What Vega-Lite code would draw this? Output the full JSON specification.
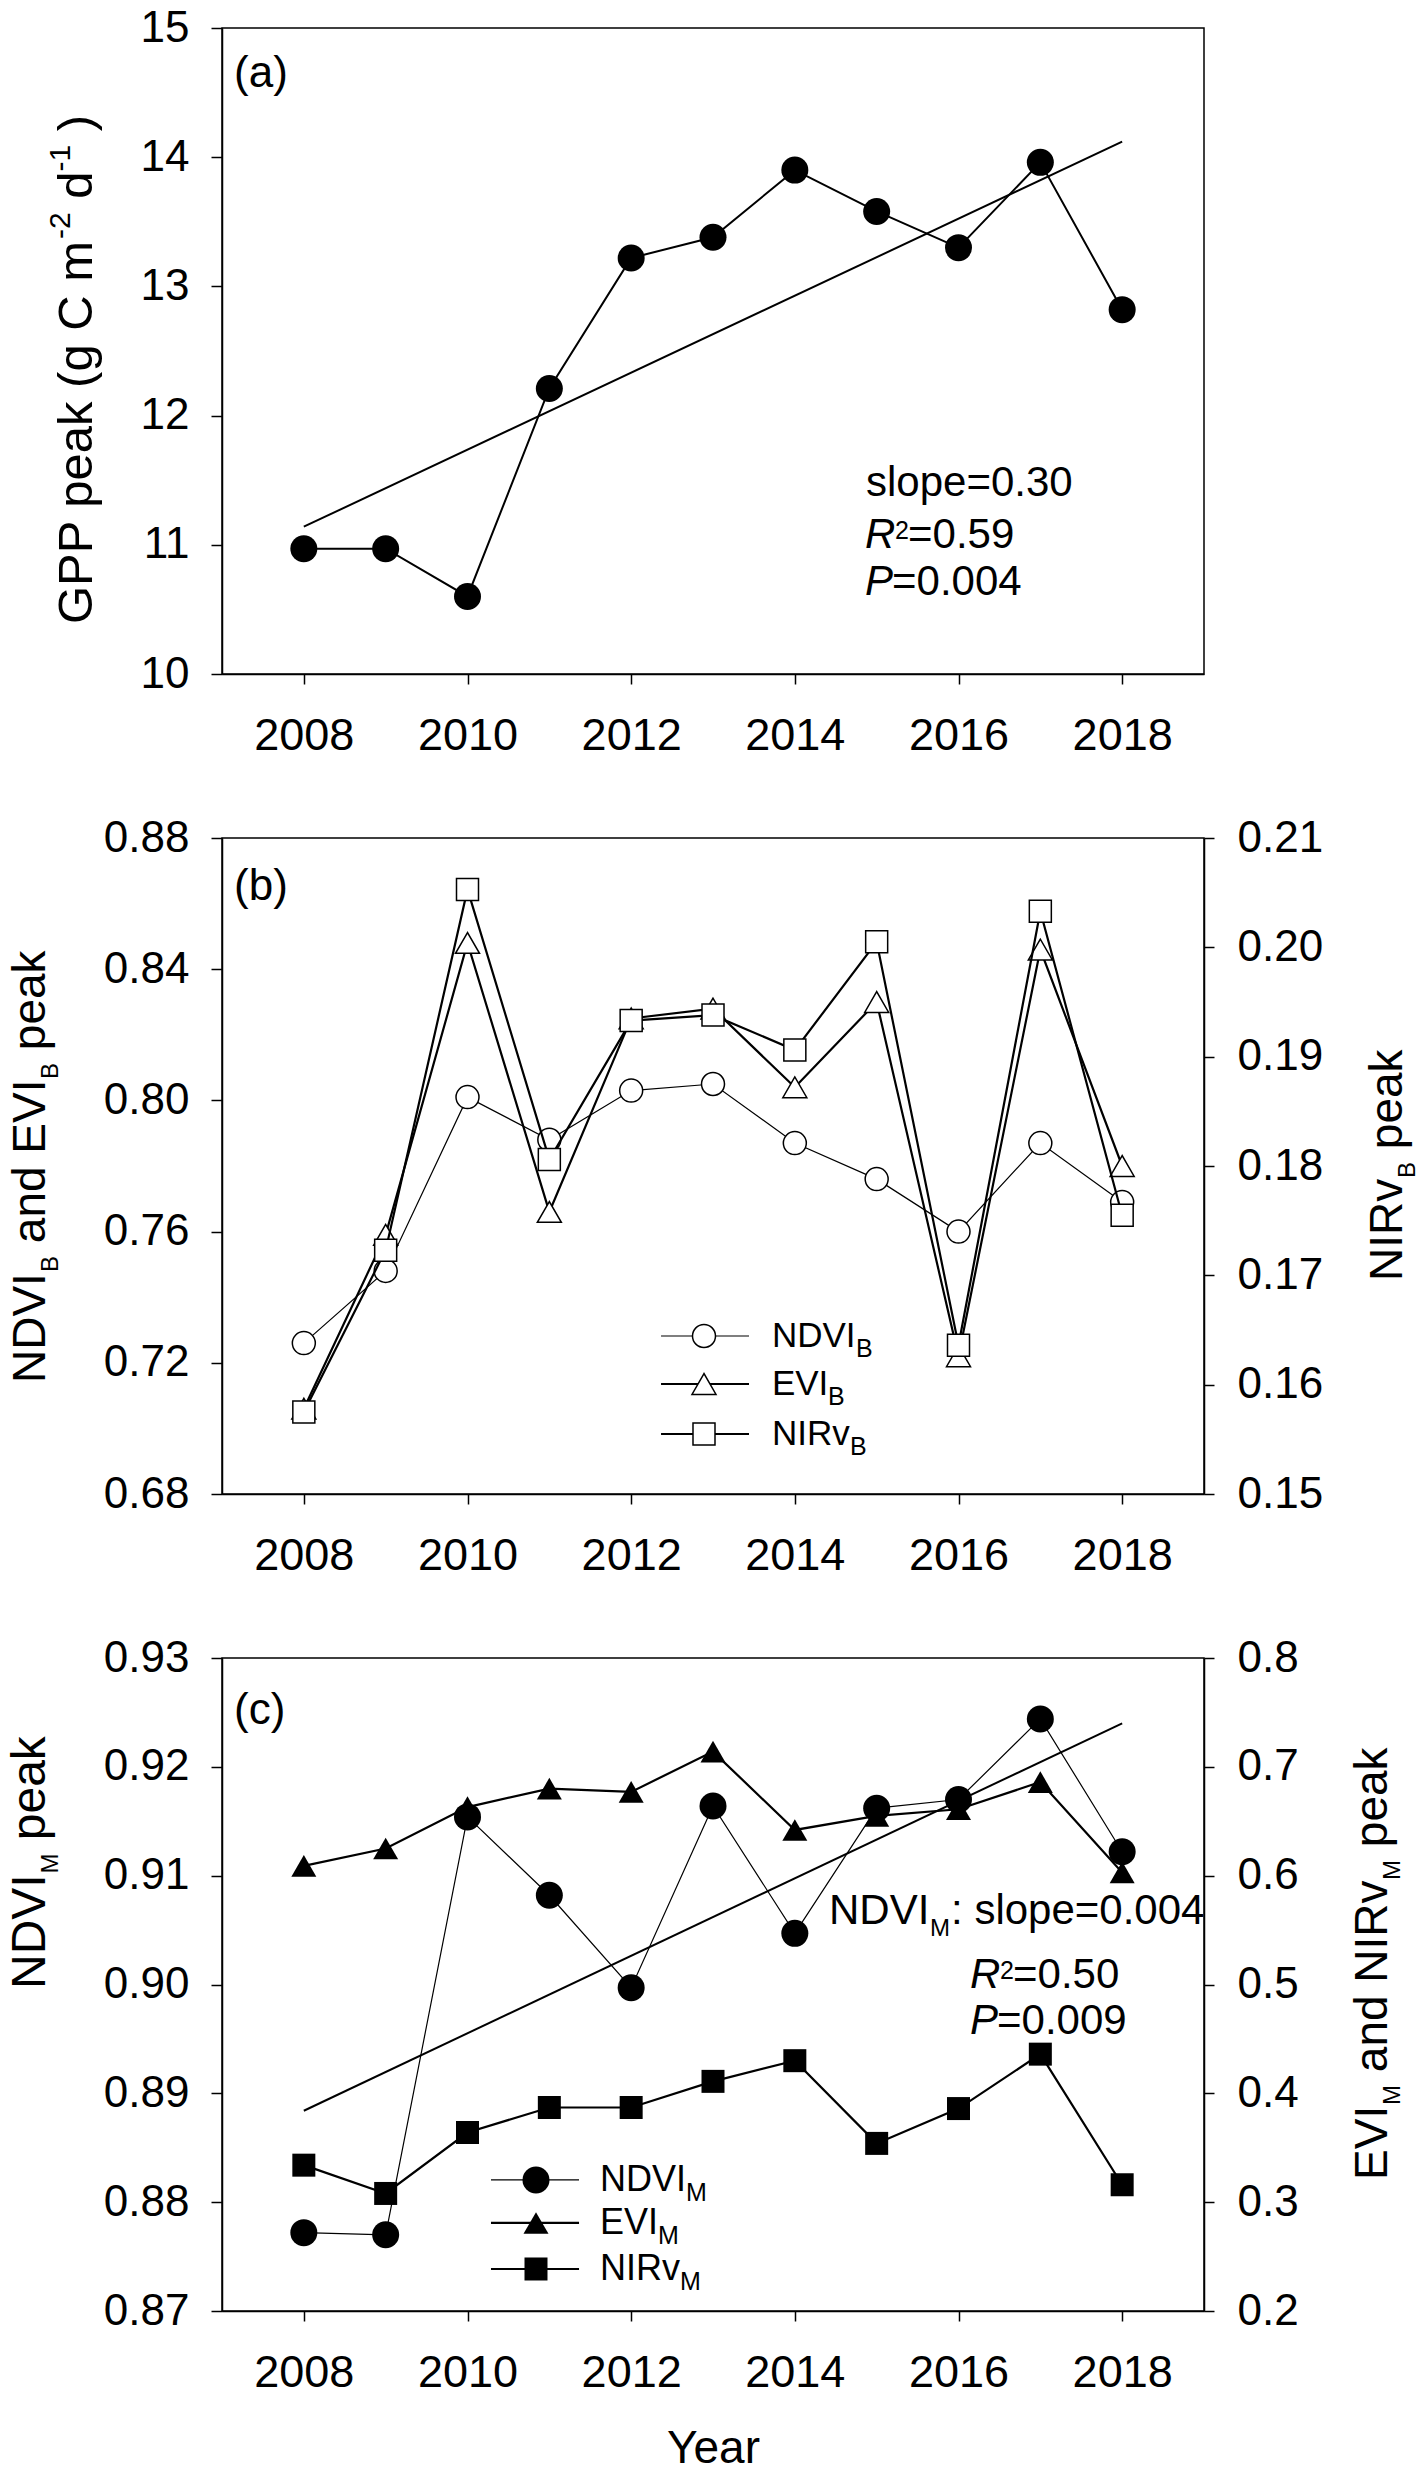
{
"$schema": "https://vega.github.io/schema/vega-lite/v6.json",
"padding": {"left": 6, "top": 5, "right": 0, "bottom": 0},
"bounds": "flush",
"spacing": 164,
"datasets": {
"idx": [
{"year": 2008, "gpp": 10.97, "ndvi_b": 0.726, "evi_b": 0.706, "nirv_b": 0.1575, "ndvi_m": 0.8772, "evi_m": 0.609, "nirv_m": 0.334},
{"year": 2009, "gpp": 10.97, "ndvi_b": 0.748, "evi_b": 0.759, "nirv_b": 0.1723, "ndvi_m": 0.8770, "evi_m": 0.625, "nirv_m": 0.308},
{"year": 2010, "gpp": 10.60, "ndvi_b": 0.801, "evi_b": 0.848, "nirv_b": 0.2053, "ndvi_m": 0.9154, "evi_m": 0.663, "nirv_m": 0.364},
{"year": 2011, "gpp": 12.21, "ndvi_b": 0.788, "evi_b": 0.766, "nirv_b": 0.1806, "ndvi_m": 0.9082, "evi_m": 0.680, "nirv_m": 0.387},
{"year": 2012, "gpp": 13.22, "ndvi_b": 0.803, "evi_b": 0.825, "nirv_b": 0.1933, "ndvi_m": 0.8997, "evi_m": 0.677, "nirv_m": 0.387},
{"year": 2013, "gpp": 13.38, "ndvi_b": 0.805, "evi_b": 0.828, "nirv_b": 0.1938, "ndvi_m": 0.9164, "evi_m": 0.714, "nirv_m": 0.411},
{"year": 2014, "gpp": 13.90, "ndvi_b": 0.787, "evi_b": 0.804, "nirv_b": 0.1906, "ndvi_m": 0.9047, "evi_m": 0.642, "nirv_m": 0.430},
{"year": 2015, "gpp": 13.58, "ndvi_b": 0.776, "evi_b": 0.830, "nirv_b": 0.2005, "ndvi_m": 0.9162, "evi_m": 0.655, "nirv_m": 0.354},
{"year": 2016, "gpp": 13.30, "ndvi_b": 0.760, "evi_b": 0.722, "nirv_b": 0.1636, "ndvi_m": 0.9170, "evi_m": 0.661, "nirv_m": 0.386},
{"year": 2017, "gpp": 13.96, "ndvi_b": 0.787, "evi_b": 0.846, "nirv_b": 0.2033, "ndvi_m": 0.9244, "evi_m": 0.686, "nirv_m": 0.436},
{"year": 2018, "gpp": 12.82, "ndvi_b": 0.769, "evi_b": 0.780, "nirv_b": 0.1755, "ndvi_m": 0.9122, "evi_m": 0.603, "nirv_m": 0.316}
],
"trendA": [{"year": 2008, "v": 11.14}, {"year": 2018, "v": 14.12}],
"trendC": [{"year": 2008, "v": 0.8884}, {"year": 2018, "v": 0.9240}],
"one": [{}]
},
"vconcat": [
{
"width": 982, "height": 646,
"layer": [
{"data": {"name": "idx"}, "mark": {"type": "line", "color": "black", "strokeWidth": 2},
 "encoding": {
  "x": {"field": "year", "type": "quantitative", "scale": {"domain": [2007, 2019], "nice": false, "zero": false}, "axis": {"values": [2008, 2010, 2012, 2014, 2016, 2018], "format": "d", "title": null}},
  "y": {"field": "gpp", "type": "quantitative", "scale": {"domain": [10, 15], "nice": false, "zero": false}, "axis": {"values": [10, 11, 12, 13, 14, 15], "format": "d", "title": null}}}},
{"data": {"name": "trendA"}, "mark": {"type": "line", "color": "black", "strokeWidth": 2},
 "encoding": {"x": {"field": "year", "type": "quantitative"}, "y": {"field": "v", "type": "quantitative"}}},
{"data": {"name": "idx"}, "mark": {"type": "point", "shape": "circle", "filled": true, "color": "black", "size": 729, "opacity": 1},
 "encoding": {"x": {"field": "year", "type": "quantitative"}, "y": {"field": "gpp", "type": "quantitative"}}},
{"data": {"name": "one"}, "mark": {"type": "text", "align": "left", "baseline": "alphabetic", "fontSize": 44},
 "encoding": {"x": {"datum": 2007.147, "type": "quantitative"}, "y": {"datum": 14.543, "type": "quantitative"}, "text": {"value": "(a)"}}},
{"data": {"name": "one"}, "mark": {"type": "text", "align": "left", "baseline": "alphabetic", "fontSize": 42},
 "encoding": {"x": {"datum": 2014.870, "type": "quantitative"}, "y": {"datum": 11.378, "type": "quantitative"}, "text": {"value": "slope=0.30"}}},
{"data": {"name": "one"}, "mark": {"type": "text", "align": "left", "baseline": "alphabetic", "fontSize": 42, "fontStyle": "italic"},
 "encoding": {"x": {"datum": 2014.858, "type": "quantitative"}, "y": {"datum": 10.975, "type": "quantitative"}, "text": {"value": "R"}}},
{"data": {"name": "one"}, "mark": {"type": "text", "align": "left", "baseline": "alphabetic", "fontSize": 25, "dx": 30, "dy": -9},
 "encoding": {"x": {"datum": 2014.858, "type": "quantitative"}, "y": {"datum": 10.975, "type": "quantitative"}, "text": {"value": "2"}}},
{"data": {"name": "one"}, "mark": {"type": "text", "align": "left", "baseline": "alphabetic", "fontSize": 42, "dx": 43},
 "encoding": {"x": {"datum": 2014.858, "type": "quantitative"}, "y": {"datum": 10.975, "type": "quantitative"}, "text": {"value": "=0.59"}}},
{"data": {"name": "one"}, "mark": {"type": "text", "align": "left", "baseline": "alphabetic", "fontSize": 42, "fontStyle": "italic"},
 "encoding": {"x": {"datum": 2014.858, "type": "quantitative"}, "y": {"datum": 10.611, "type": "quantitative"}, "text": {"value": "P"}}},
{"data": {"name": "one"}, "mark": {"type": "text", "align": "left", "baseline": "alphabetic", "fontSize": 42, "dx": 27},
 "encoding": {"x": {"datum": 2014.858, "type": "quantitative"}, "y": {"datum": 10.611, "type": "quantitative"}, "text": {"value": "=0.004"}}},
{"data": {"name": "one"}, "mark": {"type": "text", "align": "left", "baseline": "alphabetic", "angle": 270, "fontSize": 49},
 "encoding": {"x": {"datum": 2005.411, "type": "quantitative"}, "y": {"datum": 10.387, "type": "quantitative"}, "text": {"value": "GPP peak (g C m"}}},
{"data": {"name": "one"}, "mark": {"type": "text", "align": "left", "baseline": "alphabetic", "angle": 270, "fontSize": 30, "dx": 385, "dy": -22},
 "encoding": {"x": {"datum": 2005.411, "type": "quantitative"}, "y": {"datum": 10.387, "type": "quantitative"}, "text": {"value": "-2"}}},
{"data": {"name": "one"}, "mark": {"type": "text", "align": "left", "baseline": "alphabetic", "angle": 270, "fontSize": 49, "dx": 425.3},
 "encoding": {"x": {"datum": 2005.411, "type": "quantitative"}, "y": {"datum": 10.387, "type": "quantitative"}, "text": {"value": "d"}}},
{"data": {"name": "one"}, "mark": {"type": "text", "align": "left", "baseline": "alphabetic", "angle": 270, "fontSize": 30, "dx": 452.5, "dy": -22},
 "encoding": {"x": {"datum": 2005.411, "type": "quantitative"}, "y": {"datum": 10.387, "type": "quantitative"}, "text": {"value": "-1"}}},
{"data": {"name": "one"}, "mark": {"type": "text", "align": "left", "baseline": "alphabetic", "angle": 270, "fontSize": 49, "dx": 492.8},
 "encoding": {"x": {"datum": 2005.411, "type": "quantitative"}, "y": {"datum": 10.387, "type": "quantitative"}, "text": {"value": ")"}}}
]
},
{
"width": 982, "height": 656,
"resolve": {"scale": {"y": "independent"}},
"layer": [
{"layer": [
{"data": {"name": "idx"}, "mark": {"type": "line", "color": "black", "strokeWidth": 1.2},
 "encoding": {
  "x": {"field": "year", "type": "quantitative", "scale": {"domain": [2007, 2019], "nice": false, "zero": false}, "axis": {"values": [2008, 2010, 2012, 2014, 2016, 2018], "format": "d", "title": null}},
  "y": {"field": "ndvi_b", "type": "quantitative", "scale": {"domain": [0.68, 0.88], "nice": false, "zero": false}, "axis": {"orient": "left", "values": [0.68, 0.72, 0.76, 0.8, 0.84, 0.88], "format": ".2f", "title": null}}}},
{"data": {"name": "idx"}, "mark": {"type": "line", "color": "black", "strokeWidth": 2.2},
 "encoding": {"x": {"field": "year", "type": "quantitative"}, "y": {"field": "evi_b", "type": "quantitative"}}},
{"data": {"name": "idx"}, "mark": {"type": "point", "shape": "circle", "filled": true, "fill": "white", "stroke": "black", "strokeWidth": 1.5, "size": 529, "opacity": 1},
 "encoding": {"x": {"field": "year", "type": "quantitative"}, "y": {"field": "ndvi_b", "type": "quantitative"}}},
{"data": {"name": "idx"}, "mark": {"type": "point", "shape": "triangle-up", "filled": true, "fill": "white", "stroke": "black", "strokeWidth": 1.5, "size": 576, "opacity": 1},
 "encoding": {"x": {"field": "year", "type": "quantitative"}, "y": {"field": "evi_b", "type": "quantitative"}}},
{"data": {"name": "one"}, "mark": {"type": "text", "align": "left", "baseline": "alphabetic", "fontSize": 44},
 "encoding": {"x": {"datum": 2007.147, "type": "quantitative"}, "y": {"datum": 0.8611, "type": "quantitative"}, "text": {"value": "(b)"}}},
{"data": {"name": "one"}, "mark": {"type": "rule", "color": "black", "strokeWidth": 1.2},
 "encoding": {"x": {"datum": 2012.365, "type": "quantitative"}, "x2": {"datum": 2013.44}, "y": {"datum": 0.72817, "type": "quantitative"}}},
{"data": {"name": "one"}, "mark": {"type": "point", "shape": "circle", "filled": true, "fill": "white", "stroke": "black", "strokeWidth": 1.5, "size": 529, "opacity": 1},
 "encoding": {"x": {"datum": 2012.89, "type": "quantitative"}, "y": {"datum": 0.72817, "type": "quantitative"}}},
{"data": {"name": "one"}, "mark": {"type": "text", "align": "left", "baseline": "middle", "fontSize": 35},
 "encoding": {"x": {"datum": 2013.72, "type": "quantitative"}, "y": {"datum": 0.72817, "type": "quantitative"}, "text": {"value": "NDVI"}}},
{"data": {"name": "one"}, "mark": {"type": "text", "align": "left", "baseline": "middle", "fontSize": 25, "dx": 84, "dy": 13},
 "encoding": {"x": {"datum": 2013.72, "type": "quantitative"}, "y": {"datum": 0.72817, "type": "quantitative"}, "text": {"value": "B"}}},
{"data": {"name": "one"}, "mark": {"type": "rule", "color": "black", "strokeWidth": 2.2},
 "encoding": {"x": {"datum": 2012.365, "type": "quantitative"}, "x2": {"datum": 2013.44}, "y": {"datum": 0.71354, "type": "quantitative"}}},
{"data": {"name": "one"}, "mark": {"type": "point", "shape": "triangle-up", "filled": true, "fill": "white", "stroke": "black", "strokeWidth": 1.5, "size": 576, "opacity": 1},
 "encoding": {"x": {"datum": 2012.89, "type": "quantitative"}, "y": {"datum": 0.71354, "type": "quantitative"}}},
{"data": {"name": "one"}, "mark": {"type": "text", "align": "left", "baseline": "middle", "fontSize": 35},
 "encoding": {"x": {"datum": 2013.72, "type": "quantitative"}, "y": {"datum": 0.71354, "type": "quantitative"}, "text": {"value": "EVI"}}},
{"data": {"name": "one"}, "mark": {"type": "text", "align": "left", "baseline": "middle", "fontSize": 25, "dx": 56, "dy": 13},
 "encoding": {"x": {"datum": 2013.72, "type": "quantitative"}, "y": {"datum": 0.71354, "type": "quantitative"}, "text": {"value": "B"}}},
{"data": {"name": "one"}, "mark": {"type": "rule", "color": "black", "strokeWidth": 2.2},
 "encoding": {"x": {"datum": 2012.365, "type": "quantitative"}, "x2": {"datum": 2013.44}, "y": {"datum": 0.69829, "type": "quantitative"}}},
{"data": {"name": "one"}, "mark": {"type": "point", "shape": "square", "filled": true, "fill": "white", "stroke": "black", "strokeWidth": 1.5, "size": 484, "opacity": 1},
 "encoding": {"x": {"datum": 2012.89, "type": "quantitative"}, "y": {"datum": 0.69829, "type": "quantitative"}}},
{"data": {"name": "one"}, "mark": {"type": "text", "align": "left", "baseline": "middle", "fontSize": 35},
 "encoding": {"x": {"datum": 2013.72, "type": "quantitative"}, "y": {"datum": 0.69829, "type": "quantitative"}, "text": {"value": "NIRv"}}},
{"data": {"name": "one"}, "mark": {"type": "text", "align": "left", "baseline": "middle", "fontSize": 25, "dx": 78, "dy": 13},
 "encoding": {"x": {"datum": 2013.72, "type": "quantitative"}, "y": {"datum": 0.69829, "type": "quantitative"}, "text": {"value": "B"}}},
{"data": {"name": "one"}, "mark": {"type": "text", "align": "left", "baseline": "alphabetic", "angle": 270, "fontSize": 46},
 "encoding": {"x": {"datum": 2004.837, "type": "quantitative"}, "y": {"datum": 0.71384, "type": "quantitative"}, "text": {"value": "NDVI"}}},
{"data": {"name": "one"}, "mark": {"type": "text", "align": "left", "baseline": "alphabetic", "angle": 270, "fontSize": 24, "dx": 111, "dy": 13},
 "encoding": {"x": {"datum": 2004.837, "type": "quantitative"}, "y": {"datum": 0.71384, "type": "quantitative"}, "text": {"value": "B"}}},
{"data": {"name": "one"}, "mark": {"type": "text", "align": "left", "baseline": "alphabetic", "angle": 270, "fontSize": 46, "dx": 139.8},
 "encoding": {"x": {"datum": 2004.837, "type": "quantitative"}, "y": {"datum": 0.71384, "type": "quantitative"}, "text": {"value": "and EVI"}}},
{"data": {"name": "one"}, "mark": {"type": "text", "align": "left", "baseline": "alphabetic", "angle": 270, "fontSize": 24, "dx": 304, "dy": 13},
 "encoding": {"x": {"datum": 2004.837, "type": "quantitative"}, "y": {"datum": 0.71384, "type": "quantitative"}, "text": {"value": "B"}}},
{"data": {"name": "one"}, "mark": {"type": "text", "align": "left", "baseline": "alphabetic", "angle": 270, "fontSize": 46, "dx": 332.8},
 "encoding": {"x": {"datum": 2004.837, "type": "quantitative"}, "y": {"datum": 0.71384, "type": "quantitative"}, "text": {"value": "peak"}}},
{"data": {"name": "one"}, "mark": {"type": "text", "align": "left", "baseline": "alphabetic", "angle": 270, "fontSize": 46},
 "encoding": {"x": {"datum": 2021.42, "type": "quantitative"}, "y": {"datum": 0.74494, "type": "quantitative"}, "text": {"value": "NIRv"}}},
{"data": {"name": "one"}, "mark": {"type": "text", "align": "left", "baseline": "alphabetic", "angle": 270, "fontSize": 24, "dx": 103, "dy": 13},
 "encoding": {"x": {"datum": 2021.42, "type": "quantitative"}, "y": {"datum": 0.74494, "type": "quantitative"}, "text": {"value": "B"}}},
{"data": {"name": "one"}, "mark": {"type": "text", "align": "left", "baseline": "alphabetic", "angle": 270, "fontSize": 46, "dx": 131.8},
 "encoding": {"x": {"datum": 2021.42, "type": "quantitative"}, "y": {"datum": 0.74494, "type": "quantitative"}, "text": {"value": "peak"}}}
]},
{"layer": [
{"data": {"name": "idx"}, "mark": {"type": "line", "color": "black", "strokeWidth": 2.2},
 "encoding": {"x": {"field": "year", "type": "quantitative"},
  "y": {"field": "nirv_b", "type": "quantitative", "scale": {"domain": [0.15, 0.21], "nice": false, "zero": false}, "axis": {"orient": "right", "values": [0.15, 0.16, 0.17, 0.18, 0.19, 0.2, 0.21], "format": ".2f", "title": null, "tickSize": 10, "labelPadding": 23}}}},
{"data": {"name": "idx"}, "mark": {"type": "point", "shape": "square", "filled": true, "fill": "white", "stroke": "black", "strokeWidth": 1.5, "size": 484, "opacity": 1},
 "encoding": {"x": {"field": "year", "type": "quantitative"}, "y": {"field": "nirv_b", "type": "quantitative"}}}
]}
]
},
{
"width": 982, "height": 653,
"resolve": {"scale": {"y": "independent"}},
"layer": [
{"layer": [
{"data": {"name": "idx"}, "mark": {"type": "line", "color": "black", "strokeWidth": 1.2},
 "encoding": {
  "x": {"field": "year", "type": "quantitative", "scale": {"domain": [2007, 2019], "nice": false, "zero": false}, "axis": {"values": [2008, 2010, 2012, 2014, 2016, 2018], "format": "d", "title": "Year", "titleY": 151, "titleBaseline": "alphabetic", "titleFontSize": 46}},
  "y": {"field": "ndvi_m", "type": "quantitative", "scale": {"domain": [0.87, 0.93], "nice": false, "zero": false}, "axis": {"orient": "left", "values": [0.87, 0.88, 0.89, 0.9, 0.91, 0.92, 0.93], "format": ".2f", "title": null}}}},
{"data": {"name": "trendC"}, "mark": {"type": "line", "color": "black", "strokeWidth": 2},
 "encoding": {"x": {"field": "year", "type": "quantitative"}, "y": {"field": "v", "type": "quantitative"}}},
{"data": {"name": "idx"}, "mark": {"type": "point", "shape": "circle", "filled": true, "color": "black", "size": 729, "opacity": 1},
 "encoding": {"x": {"field": "year", "type": "quantitative"}, "y": {"field": "ndvi_m", "type": "quantitative"}}},
{"data": {"name": "one"}, "mark": {"type": "text", "align": "left", "baseline": "alphabetic", "fontSize": 44},
 "encoding": {"x": {"datum": 2007.147, "type": "quantitative"}, "y": {"datum": 0.92394, "type": "quantitative"}, "text": {"value": "(c)"}}},
{"data": {"name": "one"}, "mark": {"type": "text", "align": "left", "baseline": "alphabetic", "fontSize": 42},
 "encoding": {"x": {"datum": 2014.418, "type": "quantitative"}, "y": {"datum": 0.90556, "type": "quantitative"}, "text": {"value": "NDVI"}}},
{"data": {"name": "one"}, "mark": {"type": "text", "align": "left", "baseline": "alphabetic", "fontSize": 24, "dx": 101, "dy": 12},
 "encoding": {"x": {"datum": 2014.418, "type": "quantitative"}, "y": {"datum": 0.90556, "type": "quantitative"}, "text": {"value": "M"}}},
{"data": {"name": "one"}, "mark": {"type": "text", "align": "left", "baseline": "alphabetic", "fontSize": 42, "dx": 122},
 "encoding": {"x": {"datum": 2014.418, "type": "quantitative"}, "y": {"datum": 0.90556, "type": "quantitative"}, "text": {"value": ": slope=0.004"}}},
{"data": {"name": "one"}, "mark": {"type": "text", "align": "left", "baseline": "alphabetic", "fontSize": 42, "fontStyle": "italic"},
 "encoding": {"x": {"datum": 2016.141, "type": "quantitative"}, "y": {"datum": 0.89968, "type": "quantitative"}, "text": {"value": "R"}}},
{"data": {"name": "one"}, "mark": {"type": "text", "align": "left", "baseline": "alphabetic", "fontSize": 25, "dx": 30, "dy": -9},
 "encoding": {"x": {"datum": 2016.141, "type": "quantitative"}, "y": {"datum": 0.89968, "type": "quantitative"}, "text": {"value": "2"}}},
{"data": {"name": "one"}, "mark": {"type": "text", "align": "left", "baseline": "alphabetic", "fontSize": 42, "dx": 43},
 "encoding": {"x": {"datum": 2016.141, "type": "quantitative"}, "y": {"datum": 0.89968, "type": "quantitative"}, "text": {"value": "=0.50"}}},
{"data": {"name": "one"}, "mark": {"type": "text", "align": "left", "baseline": "alphabetic", "fontSize": 42, "fontStyle": "italic"},
 "encoding": {"x": {"datum": 2016.141, "type": "quantitative"}, "y": {"datum": 0.89545, "type": "quantitative"}, "text": {"value": "P"}}},
{"data": {"name": "one"}, "mark": {"type": "text", "align": "left", "baseline": "alphabetic", "fontSize": 42, "dx": 27},
 "encoding": {"x": {"datum": 2016.141, "type": "quantitative"}, "y": {"datum": 0.89545, "type": "quantitative"}, "text": {"value": "=0.009"}}},
{"data": {"name": "one"}, "mark": {"type": "rule", "color": "black", "strokeWidth": 1.2},
 "encoding": {"x": {"datum": 2010.287, "type": "quantitative"}, "x2": {"datum": 2011.363}, "y": {"datum": 0.88204, "type": "quantitative"}}},
{"data": {"name": "one"}, "mark": {"type": "point", "shape": "circle", "filled": true, "color": "black", "size": 729, "opacity": 1},
 "encoding": {"x": {"datum": 2010.837, "type": "quantitative"}, "y": {"datum": 0.88204, "type": "quantitative"}}},
{"data": {"name": "one"}, "mark": {"type": "text", "align": "left", "baseline": "middle", "fontSize": 36},
 "encoding": {"x": {"datum": 2011.619, "type": "quantitative"}, "y": {"datum": 0.88204, "type": "quantitative"}, "text": {"value": "NDVI"}}},
{"data": {"name": "one"}, "mark": {"type": "text", "align": "left", "baseline": "middle", "fontSize": 25, "dx": 86, "dy": 13},
 "encoding": {"x": {"datum": 2011.619, "type": "quantitative"}, "y": {"datum": 0.88204, "type": "quantitative"}, "text": {"value": "M"}}},
{"data": {"name": "one"}, "mark": {"type": "rule", "color": "black", "strokeWidth": 2.2},
 "encoding": {"x": {"datum": 2010.287, "type": "quantitative"}, "x2": {"datum": 2011.363}, "y": {"datum": 0.87809, "type": "quantitative"}}},
{"data": {"name": "one"}, "mark": {"type": "point", "shape": "triangle-up", "filled": true, "color": "black", "size": 625, "opacity": 1},
 "encoding": {"x": {"datum": 2010.837, "type": "quantitative"}, "y": {"datum": 0.87809, "type": "quantitative"}}},
{"data": {"name": "one"}, "mark": {"type": "text", "align": "left", "baseline": "middle", "fontSize": 36},
 "encoding": {"x": {"datum": 2011.619, "type": "quantitative"}, "y": {"datum": 0.87809, "type": "quantitative"}, "text": {"value": "EVI"}}},
{"data": {"name": "one"}, "mark": {"type": "text", "align": "left", "baseline": "middle", "fontSize": 25, "dx": 58, "dy": 13},
 "encoding": {"x": {"datum": 2011.619, "type": "quantitative"}, "y": {"datum": 0.87809, "type": "quantitative"}, "text": {"value": "M"}}},
{"data": {"name": "one"}, "mark": {"type": "rule", "color": "black", "strokeWidth": 2.2},
 "encoding": {"x": {"datum": 2010.287, "type": "quantitative"}, "x2": {"datum": 2011.363}, "y": {"datum": 0.87386, "type": "quantitative"}}},
{"data": {"name": "one"}, "mark": {"type": "point", "shape": "square", "filled": true, "color": "black", "size": 529, "opacity": 1},
 "encoding": {"x": {"datum": 2010.837, "type": "quantitative"}, "y": {"datum": 0.87386, "type": "quantitative"}}},
{"data": {"name": "one"}, "mark": {"type": "text", "align": "left", "baseline": "middle", "fontSize": 36},
 "encoding": {"x": {"datum": 2011.619, "type": "quantitative"}, "y": {"datum": 0.87386, "type": "quantitative"}, "text": {"value": "NIRv"}}},
{"data": {"name": "one"}, "mark": {"type": "text", "align": "left", "baseline": "middle", "fontSize": 25, "dx": 80, "dy": 13},
 "encoding": {"x": {"datum": 2011.619, "type": "quantitative"}, "y": {"datum": 0.87386, "type": "quantitative"}, "text": {"value": "M"}}},
{"data": {"name": "one"}, "mark": {"type": "text", "align": "left", "baseline": "alphabetic", "angle": 270, "fontSize": 48},
 "encoding": {"x": {"datum": 2004.837, "type": "quantitative"}, "y": {"datum": 0.899585, "type": "quantitative"}, "text": {"value": "NDVI"}}},
{"data": {"name": "one"}, "mark": {"type": "text", "align": "left", "baseline": "alphabetic", "angle": 270, "fontSize": 24, "dx": 115.5, "dy": 13},
 "encoding": {"x": {"datum": 2004.837, "type": "quantitative"}, "y": {"datum": 0.899585, "type": "quantitative"}, "text": {"value": "M"}}},
{"data": {"name": "one"}, "mark": {"type": "text", "align": "left", "baseline": "alphabetic", "angle": 270, "fontSize": 48, "dx": 148.8},
 "encoding": {"x": {"datum": 2004.837, "type": "quantitative"}, "y": {"datum": 0.899585, "type": "quantitative"}, "text": {"value": "peak"}}},
{"data": {"name": "one"}, "mark": {"type": "text", "align": "left", "baseline": "alphabetic", "angle": 270, "fontSize": 46},
 "encoding": {"x": {"datum": 2021.237, "type": "quantitative"}, "y": {"datum": 0.88204, "type": "quantitative"}, "text": {"value": "EVI"}}},
{"data": {"name": "one"}, "mark": {"type": "text", "align": "left", "baseline": "alphabetic", "angle": 270, "fontSize": 24, "dx": 75, "dy": 13},
 "encoding": {"x": {"datum": 2021.237, "type": "quantitative"}, "y": {"datum": 0.88204, "type": "quantitative"}, "text": {"value": "M"}}},
{"data": {"name": "one"}, "mark": {"type": "text", "align": "left", "baseline": "alphabetic", "angle": 270, "fontSize": 46, "dx": 107.8},
 "encoding": {"x": {"datum": 2021.237, "type": "quantitative"}, "y": {"datum": 0.88204, "type": "quantitative"}, "text": {"value": "and NIRv"}}},
{"data": {"name": "one"}, "mark": {"type": "text", "align": "left", "baseline": "alphabetic", "angle": 270, "fontSize": 24, "dx": 300, "dy": 13},
 "encoding": {"x": {"datum": 2021.237, "type": "quantitative"}, "y": {"datum": 0.88204, "type": "quantitative"}, "text": {"value": "M"}}},
{"data": {"name": "one"}, "mark": {"type": "text", "align": "left", "baseline": "alphabetic", "angle": 270, "fontSize": 46, "dx": 332.8},
 "encoding": {"x": {"datum": 2021.237, "type": "quantitative"}, "y": {"datum": 0.88204, "type": "quantitative"}, "text": {"value": "peak"}}}
]},
{"layer": [
{"data": {"name": "idx"}, "mark": {"type": "line", "color": "black", "strokeWidth": 2.2},
 "encoding": {"x": {"field": "year", "type": "quantitative"},
  "y": {"field": "evi_m", "type": "quantitative", "scale": {"domain": [0.2, 0.8], "nice": false, "zero": false}, "axis": {"orient": "right", "values": [0.2, 0.3, 0.4, 0.5, 0.6, 0.7, 0.8], "format": ".1f", "title": null, "tickSize": 10, "labelPadding": 23}}}},
{"data": {"name": "idx"}, "mark": {"type": "line", "color": "black", "strokeWidth": 2.2},
 "encoding": {"x": {"field": "year", "type": "quantitative"}, "y": {"field": "nirv_m", "type": "quantitative"}}},
{"data": {"name": "idx"}, "mark": {"type": "point", "shape": "triangle-up", "filled": true, "color": "black", "size": 625, "opacity": 1},
 "encoding": {"x": {"field": "year", "type": "quantitative"}, "y": {"field": "evi_m", "type": "quantitative"}}},
{"data": {"name": "idx"}, "mark": {"type": "point", "shape": "square", "filled": true, "color": "black", "size": 529, "opacity": 1},
 "encoding": {"x": {"field": "year", "type": "quantitative"}, "y": {"field": "nirv_m", "type": "quantitative"}}}
]}
]
}
],
"config": {
"font": "Liberation Sans",
"view": {"stroke": "black", "strokeWidth": 1.5},
"text": {"font": "Liberation Sans", "color": "black"},
"axis": {"labelFont": "Liberation Sans", "labelFontSize": 44, "labelColor": "black", "tickColor": "black", "domainColor": "black", "tickWidth": 1.5, "domainWidth": 1.5, "grid": false, "labelFlush": false, "labelOverlap": false, "titleFont": "Liberation Sans", "titleFontWeight": "normal", "titleColor": "black"},
"axisX": {"tickSize": 10, "labelPadding": 29, "labelFontSize": 45},
"axisY": {"tickSize": 11, "labelPadding": 22}
}
}
